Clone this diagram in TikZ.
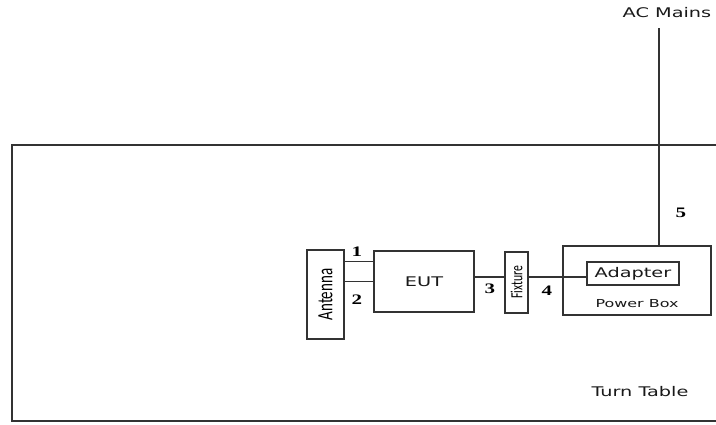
\documentclass[tikz,border=0pt]{standalone}
\usepackage{fontspec}
\setmainfont{DejaVu Sans}
\newfontfamily\numfont{Liberation Serif}
\newfontfamily\narrowfont{Carlito}
\newcommand{\wide}[1]{\scalebox{1.45}[1]{#1}}

\begin{document}
\begin{tikzpicture}[
    x=1pt, y=-1pt,
    box/.style={rectangle, draw=black!80, line width=1.4pt, inner sep=0pt, fill=white},
    txt/.style={font=\fontsize{13.3}{15}\selectfont, text=black!90, inner sep=0pt},
    num/.style={font=\numfont\bfseries\fontsize{14.5}{16}\selectfont, text=black, inner sep=0pt},
    wire/.style={draw=black!80, line width=1.4pt}
]
\useasboundingbox (0,0) rectangle (716,424);

% Turn table
\draw[wire] (716,145) -- (12,145) -- (12,421) -- (716,421);
\node[txt] (tt) at (640,392) {\wide{Turn Table}};

% Equipment on the table
\node[box, minimum width=37pt, minimum height=89pt] (ant) at (325.5,294.5) {\wide{\rotatebox{90}{\narrowfont\fontsize{15}{17}\selectfont Antenna}}};
\node[box, txt, minimum width=100pt, minimum height=61pt] (eut) at (424,281.5) {\wide{EUT}};
\node[box, minimum width=23pt, minimum height=61pt] (fix) at (516.5,282.5) {\wide{\rotatebox{90}{\narrowfont\fontsize{11.7}{13}\selectfont Fixture}}};
\node[box, minimum width=148pt, minimum height=69pt] (pwr) at (637,280.5) {};
\node[box, txt, minimum width=92pt, minimum height=23pt] (adp) at (633,273.5) {\wide{Adapter}};
\node[txt, font=\fontsize{11}{13}\selectfont] (pbt) at ([yshift=-23.5pt]pwr.center) {\wide{Power Box}};

% Cables
\coordinate (e1) at ([yshift=-11pt]eut.north west);
\draw[wire] (e1) -- (e1 -| ant.east);
\draw[wire] (eut.west) -- (eut.west -| ant.east);
\coordinate (e3) at ([yshift=-26.5pt]eut.north east);
\draw[wire] (e3) -- (e3 -| fix.west);
\coordinate (a4) at ([yshift=-3.5pt]adp.west);
\draw[wire] (a4) -- (a4 -| fix.east);
\node[txt] (ac) at (667,13) {\wide{AC Mains}};
\coordinate (acin) at (659,28);
\draw[wire] (acin) -- (acin |- pwr.north);

% Cable numbers
\node[num] (n1) at (357,252) {\wide{1}};
\node[num] (n2) at (357,300) {\wide{2}};
\node[num] (n3) at (490,289) {\wide{3}};
\node[num] (n4) at (547,291) {\wide{4}};
\node[num] (n5) at (681,213) {\wide{5}};

\end{tikzpicture}
\end{document}
